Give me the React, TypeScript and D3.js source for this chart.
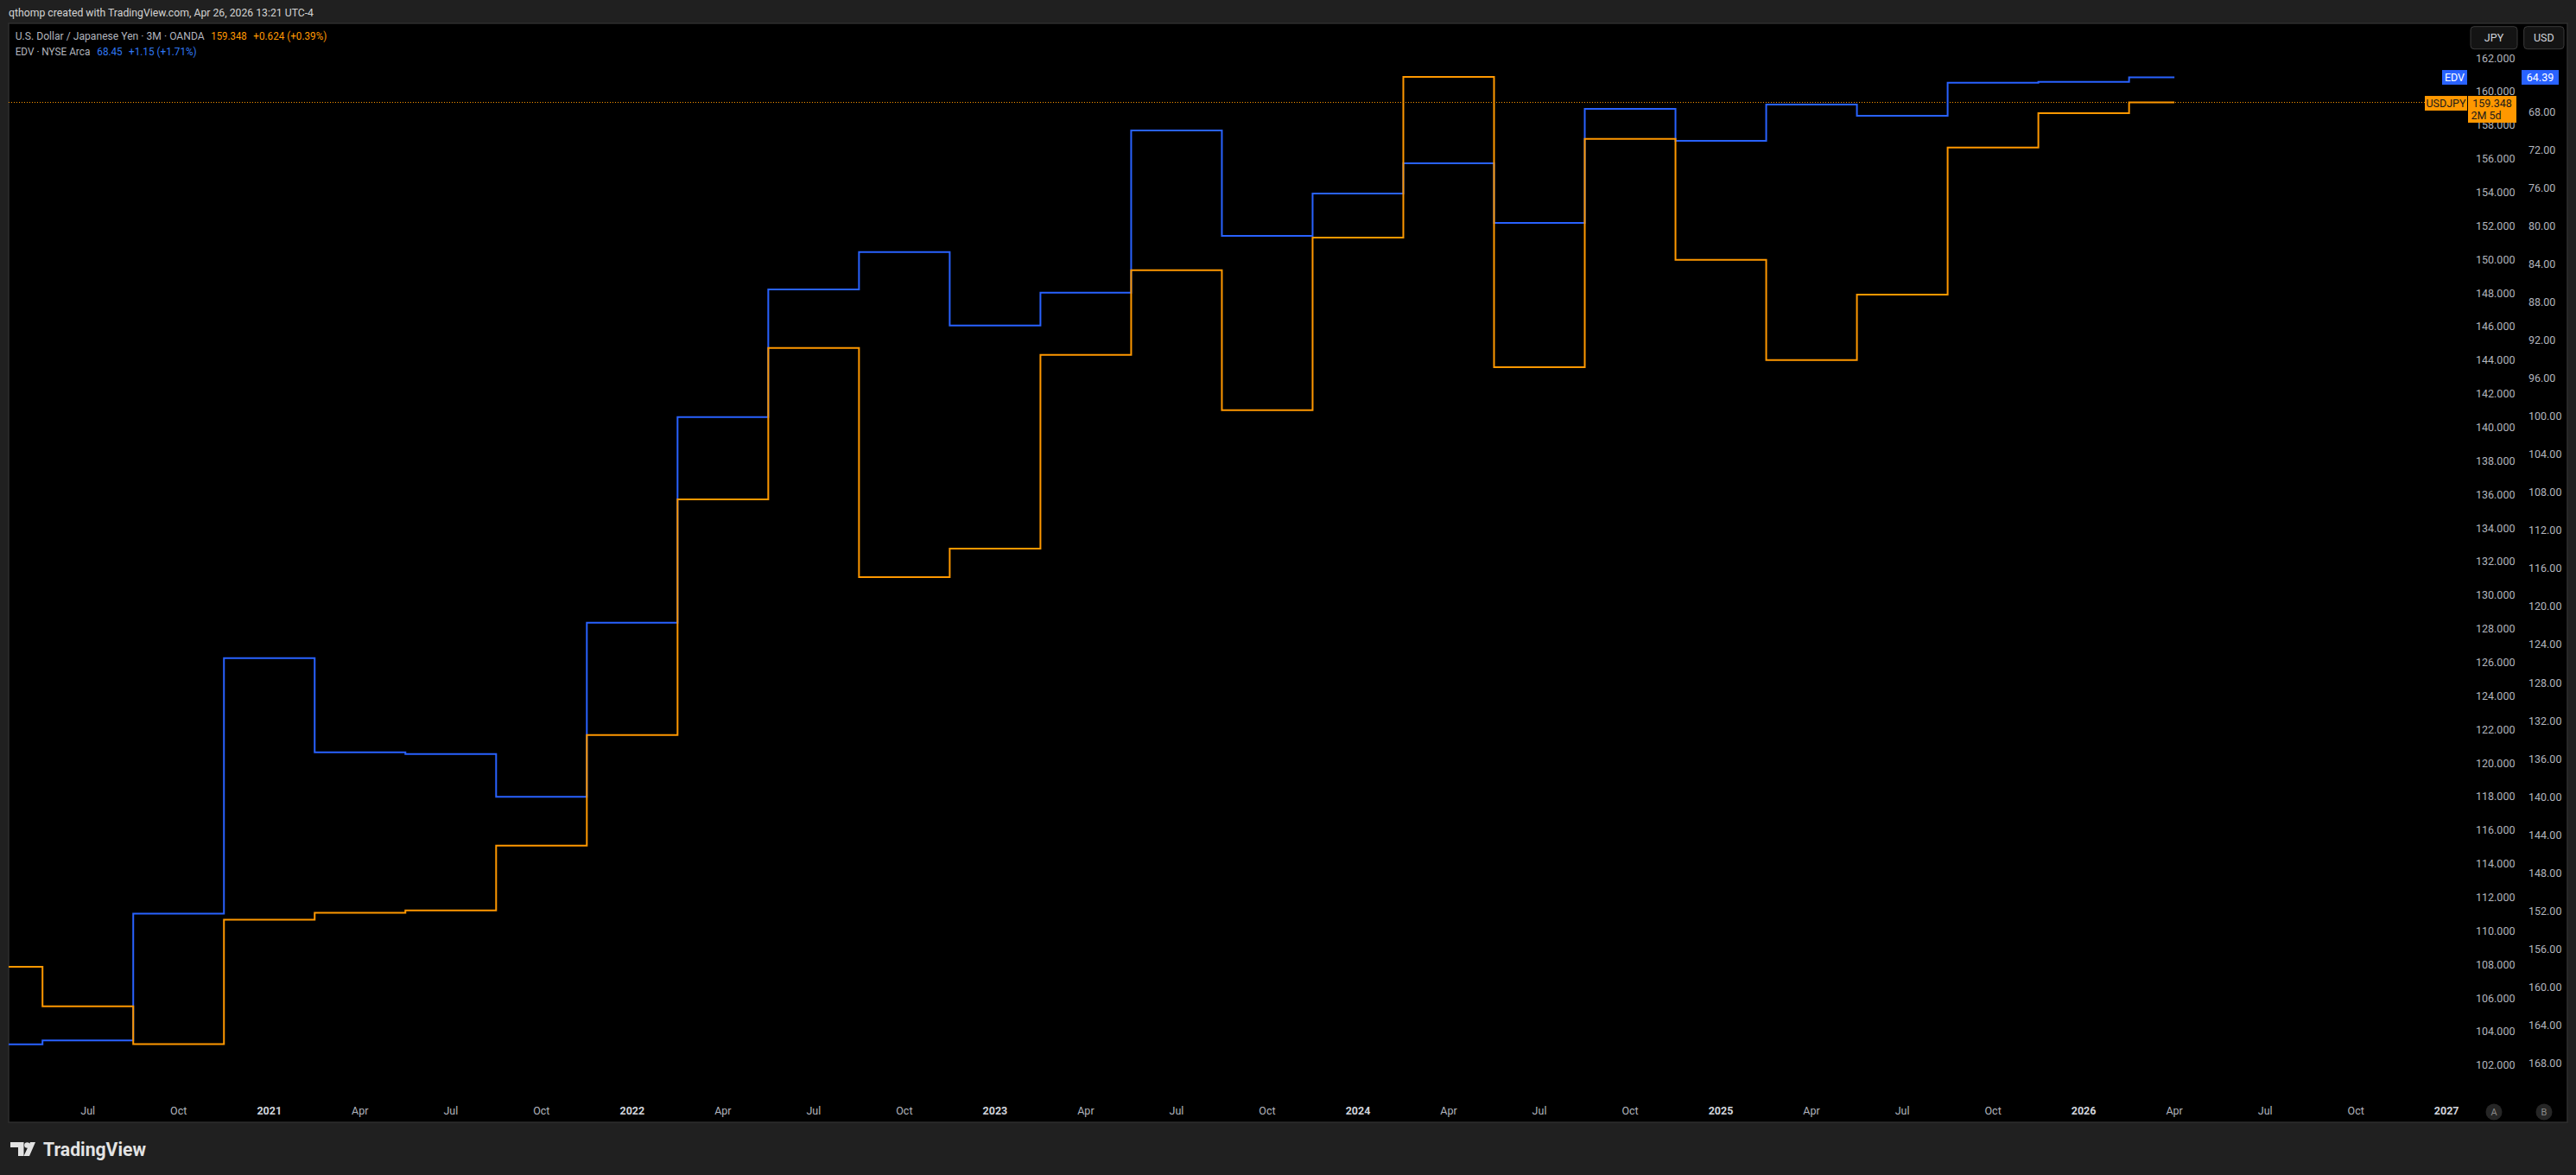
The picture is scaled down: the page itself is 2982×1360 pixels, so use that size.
import * as d3 from 'd3'

// quarterly closes, first bar = Apr 2020 (Q2 2020), last = Apr 2026
const usdjpy = [
  107.86, 105.5, 103.25, 110.66, 111.07, 111.22, 115.07, 121.66, 135.7, 144.72,
  131.07, 132.77, 144.31, 149.35, 141.02, 151.3, 160.87, 143.57, 157.18, 149.97,
  144.0, 147.9, 156.66, 158.71, 159.348
]
const edv = [
  166.03, 165.61, 152.3, 125.43, 135.33, 135.52, 140.0, 121.72, 100.1, 86.68,
  82.75, 90.47, 87.03, 69.96, 81.05, 76.6, 73.42, 79.69, 67.7, 71.06,
  67.25, 68.43, 64.95, 64.86, 64.39
]
// time axis labels, bar index 1 (Jul 2020) to 27 (Jan 2027)
const timeLabels = [
  'Jul', 'Oct', '2021', 'Apr', 'Jul', 'Oct', '2022', 'Apr', 'Jul', 'Oct', '2023', 'Apr', 'Jul',
  'Oct', '2024', 'Apr', 'Jul', 'Oct', '2025', 'Apr', 'Jul', 'Oct', '2026', 'Apr', 'Jul', 'Oct', '2027'
]
const jpyTicks = d3.range(102, 163, 2)
const edvTicks = d3.range(68, 169, 4)

const W = 2982
const H = 1360
const frame = { left: 10, top: 27, right: 2972, bottom: 1299 }
const ORANGE = '#ff9800'
const BLUE = '#2962ff'
const FONT = '"Trebuchet MS", Roboto, sans-serif'

export default function App() {
  const x = d3.scaleLinear().domain([0, 27]).range([-3.3, 2832.2])
  const yJpy = d3.scaleLinear().domain([102, 162]).range([1232.8, 67])
  const yEdv = d3.scaleLinear().domain([68, 168]).range([129.3, 1230.5])

  const jpyLine = d3.line<number>().x((_, i) => x(i)).y(d => yJpy(d)).curve(d3.curveStep)
  const edvLine = d3.line<number>().x((_, i) => x(i)).y(d => yEdv(d)).curve(d3.curveStep)

  const lastJpy = usdjpy[usdjpy.length - 1]
  const lastEdv = edv[edv.length - 1]
  const pj = yJpy(lastJpy)
  const pe = yEdv(lastEdv)

  return (
    <svg width={W} height={H} style={{ position: 'absolute', left: 0, top: 0, display: 'block' }} fontFamily={FONT}>
      <defs>
        <clipPath id="plot">
          <rect x={frame.left} y={frame.top} width={frame.right - frame.left} height={frame.bottom - frame.top} />
        </clipPath>
      </defs>
      <rect width={W} height={H} fill="#202020" />
      <text x={10} y={14} dominantBaseline="central" fontSize={12.5} fill="#d4d4d4" textLength={353} lengthAdjust="spacingAndGlyphs">
        qthomp created with TradingView.com, Apr 26, 2026 13:21 UTC-4
      </text>
      <rect x={frame.left} y={frame.top} width={frame.right - frame.left} height={frame.bottom - frame.top} fill="#000" stroke="#2e2e2e" strokeWidth={1.5} />

      {/* legend */}
      <g fontSize={12} dominantBaseline="central">
        <text x={17.7} y={42.3} fill="#b2b5be" textLength={219} lengthAdjust="spacingAndGlyphs">U.S. Dollar / Japanese Yen · 3M · OANDA</text>
        <text x={244.3} y={42.3} fill={ORANGE} textLength={41.4} lengthAdjust="spacingAndGlyphs">159.348</text>
        <text x={293.3} y={42.3} fill={ORANGE} textLength={85} lengthAdjust="spacingAndGlyphs">+0.624 (+0.39%)</text>
        <text x={17.7} y={60} fill="#b2b5be" textLength={86.6} lengthAdjust="spacingAndGlyphs">EDV · NYSE Arca</text>
        <text x={112.3} y={60} fill="#3179f5" textLength={29.4} lengthAdjust="spacingAndGlyphs">68.45</text>
        <text x={149} y={60} fill="#3179f5" textLength={78.7} lengthAdjust="spacingAndGlyphs">+1.15 (+1.71%)</text>
      </g>

      {/* series */}
      <g clipPath="url(#plot)" fill="none" strokeWidth={2}>
        <line x1={frame.left} x2={2807} y1={pj} y2={pj} stroke={ORANGE} strokeWidth={1} strokeDasharray="1 2" />
        <path d={edvLine(edv) ?? ''} stroke={BLUE} />
        <path d={jpyLine(usdjpy) ?? ''} stroke={ORANGE} />
      </g>

      {/* price scales */}
      <g fontSize={12.5} fill="#b2b5be" dominantBaseline="central">
        {jpyTicks.map(t => (
          <text key={'j' + t} x={2866} y={yJpy(t)}>{t.toFixed(3)}</text>
        ))}
        {edvTicks.map(t => (
          <text key={'e' + t} x={2927} y={yEdv(t)}>{t.toFixed(2)}</text>
        ))}
      </g>

      {/* time scale */}
      <g fontSize={12.5} textAnchor="middle" dominantBaseline="central">
        {timeLabels.map((l, i) => {
          const year = /^\d/.test(l)
          return (
            <text key={i} x={x(i + 1)} y={1285.7} fill={year ? '#d1d4dc' : '#b2b5be'} fontWeight={year ? 700 : 400}>{l}</text>
          )
        })}
      </g>

      {/* scale buttons */}
      <g fontSize={12.5} textAnchor="middle" dominantBaseline="central" fill="#d1d4dc">
        <rect x={2860} y={30.7} width={54} height={26} rx={4} fill="#141414" stroke="#3a3a3a" />
        <text x={2887} y={43.7}>JPY</text>
        <rect x={2921.7} y={30.7} width={46.3} height={26} rx={4} fill="#141414" stroke="#3a3a3a" />
        <text x={2944.8} y={43.7}>USD</text>
      </g>

      {/* last value labels */}
      <g fontSize={12.5} dominantBaseline="central" textAnchor="middle">
        <rect x={2827} y={pe - 8.5} width={29} height={17} fill={BLUE} />
        <text x={2841.5} y={pe} fill="#fff">EDV</text>
        <rect x={2919} y={pe - 8.5} width={43} height={17} fill={BLUE} />
        <text x={2940.5} y={pe} fill="#fff">{lastEdv.toFixed(2)}</text>
        <rect x={2807} y={pj - 7.5} width={49} height={17} fill={ORANGE} />
        <text x={2831.5} y={pj + 1} fill="#1a1a1a">USDJPY</text>
        <rect x={2857} y={pj - 7.5} width={56} height={31} fill={ORANGE} />
        <text x={2885} y={pj + 1} fill="#1a1a1a">{lastJpy.toFixed(3)}</text>
        <text x={2878} y={pj + 14.5} fill="#1a1a1a">2M 5d</text>
      </g>

      {/* A / B buttons */}
      <g fontSize={11} textAnchor="middle" dominantBaseline="central" fill="#8a8a8a">
        <circle cx={2887} cy={1287} r={9.5} fill="#262626" />
        <text x={2887} y={1287.5}>A</text>
        <circle cx={2945} cy={1287} r={9.5} fill="#262626" />
        <text x={2945} y={1287.5}>B</text>
      </g>

      {/* TradingView logo */}
      <g fill="#e3e3e3">
        <path d="M12,1322 H27.5 V1338 H21 V1328 H12 Z" />
        <circle cx={31.5} cy={1325.5} r={3.3} />
        <path d="M35,1322 H41 L34,1338 H27.5 Z" />
        <text x={50} y={1337.5} fontSize={22} fontWeight={700} textLength={119} lengthAdjust="spacingAndGlyphs">TradingView</text>
      </g>
    </svg>
  )
}
